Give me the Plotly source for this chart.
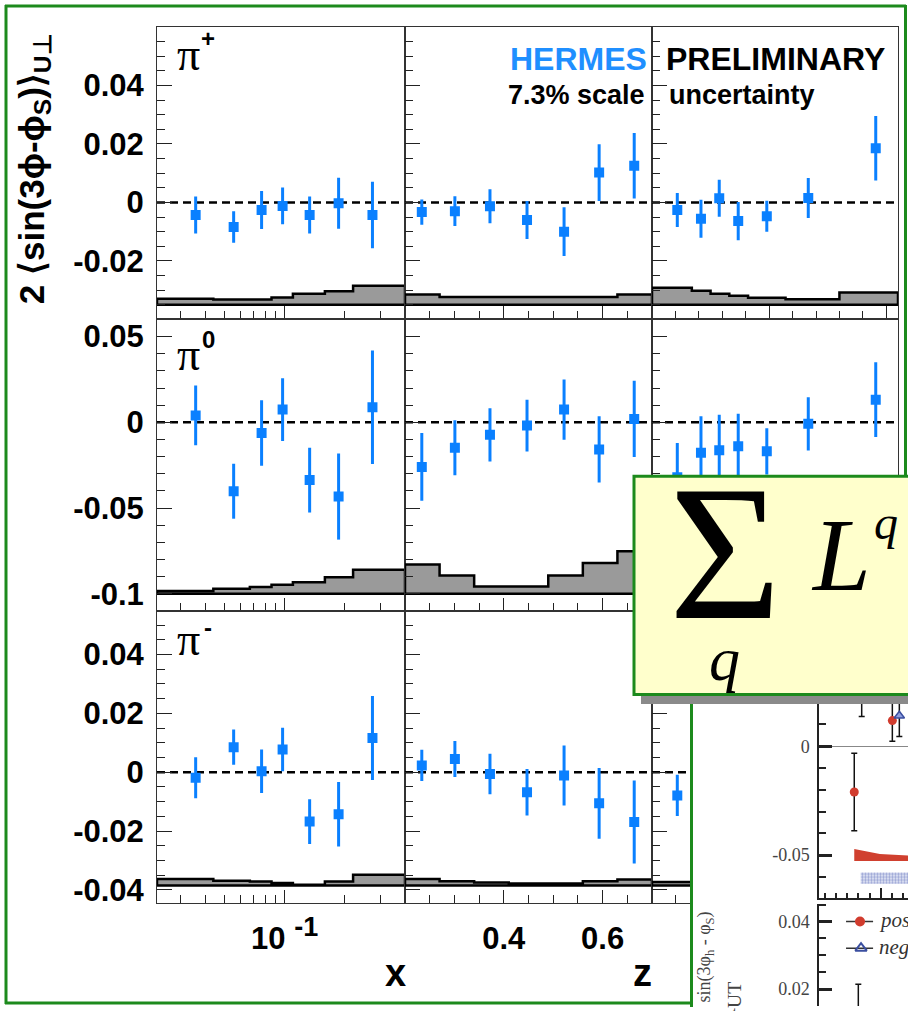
import numpy as np
import plotly.graph_objects as go

W, H = 908, 1011

# ---------------- data ----------------
x_centers = [0.0359, 0.0556, 0.0767, 0.0977, 0.1334, 0.1862, 0.275]
z_centers = [0.234, 0.301, 0.372, 0.447, 0.522, 0.593, 0.664]
pt_centers = [0.108, 0.209, 0.287, 0.368, 0.490, 0.667, 0.955]

x_edges = [0.023, 0.044, 0.067, 0.086, 0.11, 0.159, 0.22, 0.4]
z_edges = [0.2, 0.27, 0.34, 0.41, 0.49, 0.56, 0.63, 0.7]
pt_edges = [0.0, 0.17, 0.25, 0.33, 0.41, 0.57, 0.80, 1.05]

# pi+
pip_x_val = [-0.0043, -0.0084, -0.0026, -0.0012, -0.0043, -0.0003, -0.0043]
pip_x_err = [0.0063, 0.0054, 0.0065, 0.0063, 0.0063, 0.0087, 0.0114]
pip_z_val = [-0.0033, -0.0030, -0.0013, -0.0060, -0.0100, 0.0102, 0.0125]
pip_z_err = [0.0043, 0.0051, 0.0058, 0.0065, 0.0083, 0.0097, 0.0112]
pip_pt_val = [-0.0026, -0.0056, 0.0014, -0.0064, -0.0047, 0.0015, 0.0185]
pip_pt_err = [0.0058, 0.0065, 0.0063, 0.0065, 0.0053, 0.0068, 0.0110]
pip_x_sys = [0.0021, 0.0018, 0.0018, 0.0025, 0.0038, 0.0046, 0.0065]
pip_z_sys = [0.0035, 0.0027, 0.0027, 0.0027, 0.0027, 0.0027, 0.0035]
pip_pt_sys = [0.0058, 0.0048, 0.0038, 0.0031, 0.0024, 0.0019, 0.0042]

# pi0
pi0_x_val = [0.0040, -0.0402, -0.0063, 0.0074, -0.0337, -0.0433, 0.0088]
pi0_x_err = [0.0174, 0.0160, 0.0191, 0.0183, 0.0189, 0.0251, 0.0331]
pi0_z_val = [-0.0260, -0.0148, -0.0073, -0.0019, 0.0074, -0.0158, 0.0020]
pi0_z_err = [0.0197, 0.0160, 0.0155, 0.0151, 0.0176, 0.0193, 0.0222]
pi0_pt_val = [-0.0320, -0.0177, -0.0163, -0.0140, -0.0169, -0.0009, 0.0132]
pi0_pt_err = [0.0199, 0.0213, 0.0207, 0.0190, 0.0135, 0.0155, 0.0218]
pi0_x_sys = [0.0016, 0.0030, 0.0040, 0.0053, 0.0068, 0.0097, 0.0140]
pi0_z_sys = [0.0171, 0.0107, 0.0043, 0.0043, 0.0107, 0.0180, 0.0248]
pi0_pt_sys = [0.0120, 0.0090, 0.0070, 0.0060, 0.0050, 0.0060, 0.0100]

# pi-
pim_x_val = [-0.0019, 0.0085, 0.0003, 0.0077, -0.0168, -0.0143, 0.0116]
pim_x_err = [0.0070, 0.0060, 0.0074, 0.0074, 0.0076, 0.0110, 0.0143]
pim_z_val = [0.0023, 0.0045, -0.0006, -0.0068, -0.0011, -0.0106, -0.0169]
pim_z_err = [0.0053, 0.0061, 0.0069, 0.0079, 0.0102, 0.0120, 0.0141]
pim_pt_val = [-0.0079, -0.0030, 0.0020, -0.0040, 0.0010, 0.0030, 0.0060]
pim_pt_err = [0.0070, 0.0070, 0.0070, 0.0070, 0.0060, 0.0070, 0.0110]
pim_x_sys = [0.0022, 0.0016, 0.0013, 0.0008, 0.0002, 0.0013, 0.0036]
pim_z_sys = [0.0022, 0.0014, 0.0010, 0.0007, 0.0007, 0.0014, 0.0020]
pim_pt_sys = [0.0012, 0.0010, 0.0010, 0.0010, 0.0012, 0.0015, 0.0020]

sys_base = [-0.035, -0.100, -0.0385]
y_ranges = [[-0.04, 0.06], [-0.11, 0.06], [-0.0443, 0.0548]]
y_tickvals = [[-0.04, -0.02, 0, 0.02, 0.04, 0.06], [-0.1, -0.05, 0, 0.05], [-0.04, -0.02, 0, 0.02, 0.04]]
y_ticktext = [["", "-0.02", "0", "0.02", "0.04", ""], ["-0.1", "-0.05", "0", "0.05"],
              ["-0.04", "-0.02", "0", "0.02", "0.04"]]
y_minor = [0.005, 0.01, 0.005]
hadron_labels = ["+", "0", "-"]

# inset (other experiment) data
ins_pos_x = [0.263, 0.601]
ins_pos_y = [-0.021, 0.0118]
ins_pos_err = [0.0178, 0.0095]
ins_neg_x = [0.663]
ins_neg_y = [0.014]
ins_neg_err = [0.0095]
ins_oth_x = [0.329]
ins_oth_y = [0.028]
ins_oth_err = [0.0143]
ins_red_band_x = [0.263, 0.49, 0.74]
ins_red_band_top = [-0.0472, -0.0495, -0.0502]
ins_red_band_bot = [-0.0527, -0.0527, -0.0527]
ins_blue_band_x = [0.32, 0.74]
ins_blue_band_top = [-0.0580, -0.0580]
ins_blue_band_bot = [-0.0632, -0.0632]
ins_low_x = [0.299]
ins_low_y = [0.008]
ins_low_err = [0.0134]

BLUE = "#0a80ff"
GREEN = "#1c8a1c"

fig = go.Figure()

col_px = [(157, 405), (405, 652), (652, 898)]
row_px = [(27, 321), (321, 614), (614, 907)]
cols = [
    dict(centers=x_centers, edges=x_edges, rng=[0.023, 0.4]),
    dict(centers=z_centers, edges=z_edges, rng=[0.2, 0.7]),
    dict(centers=pt_centers, edges=pt_edges, rng=[0.0, 1.05]),
]
vals = [[pip_x_val, pip_z_val, pip_pt_val], [pi0_x_val, pi0_z_val, pi0_pt_val], [pim_x_val, pim_z_val, pim_pt_val]]
errs = [[pip_x_err, pip_z_err, pip_pt_err], [pi0_x_err, pi0_z_err, pi0_pt_err], [pim_x_err, pim_z_err, pim_pt_err]]
syss = [[pip_x_sys, pip_z_sys, pip_pt_sys], [pi0_x_sys, pi0_z_sys, pi0_pt_sys], [pim_x_sys, pim_z_sys, pim_pt_sys]]


def axn(k):
    return ("x" if k == 1 else f"x{k}"), ("y" if k == 1 else f"y{k}")


layout = dict(width=W, height=H, margin=dict(l=0, r=0, t=0, b=0), paper_bgcolor="white",
              plot_bgcolor="white", showlegend=False)

tickfont = dict(family="Liberation Sans", size=31, color="black", weight="bold")

for r in range(3):
    for c in range(3):
        k = r * 3 + c + 1
        xa, ya = axn(k)
        cd = cols[c]
        base = sys_base[r]
        e = cd["edges"]
        hx, hy = [e[0]], [base]
        for i, h in enumerate(syss[r][c]):
            hx += [e[i], e[i + 1]]
            hy += [base + h, base + h]
        hx += [e[-1], e[0]]
        hy += [base, base]
        fig.add_trace(go.Scatter(x=hx, y=hy, mode="lines", fill="toself", fillcolor="#9a9a9a",
                                 line=dict(color="black", width=2.5), xaxis=xa, yaxis=ya,
                                 hoverinfo="skip", showlegend=False))
        fig.add_trace(go.Scatter(x=cd["rng"], y=[0, 0], mode="lines",
                                 line=dict(color="black", width=2.5, dash="8px,5px"),
                                 xaxis=xa, yaxis=ya, hoverinfo="skip", showlegend=False))
        fig.add_trace(go.Scatter(x=cd["centers"], y=vals[r][c], mode="markers",
                                 marker=dict(symbol="square", size=10, color=BLUE),
                                 error_y=dict(type="data", array=errs[r][c], color=BLUE, thickness=3, width=0),
                                 xaxis=xa, yaxis=ya, showlegend=False))

        xkey = "xaxis" if k == 1 else f"xaxis{k}"
        ykey = "yaxis" if k == 1 else f"yaxis{k}"
        xd = dict(domain=[col_px[c][0] / W, col_px[c][1] / W], anchor=ya, showline=True, mirror=True,
                  linecolor="#333", linewidth=1, ticks="inside", ticklen=13, tickcolor="#222", tickwidth=1,
                  showgrid=False, zeroline=False, showticklabels=(r == 2 and c < 2), tickfont=tickfont,
                  ticklabelstandoff=8)
        if c == 0:
            xd.update(type="log", range=[np.log10(0.023), np.log10(0.4)], tickvals=[0.1],
                      ticktext=["10 <sup><span style='font-size:27px'>-1</span></sup>"],
                      minor=dict(ticks="inside", ticklen=8, tickcolor="#222",
                                 tickvals=[0.03, 0.04, 0.05, 0.06, 0.07, 0.08, 0.09, 0.2, 0.3]))
        elif c == 1:
            xd.update(range=[0.2, 0.7], tickvals=[0.2, 0.4, 0.6], ticktext=["", "0.4", "0.6"],
                      minor=dict(ticks="inside", ticklen=8, tickcolor="#222", dtick=0.05, tick0=0.2))
        else:
            xd.update(range=[0.0, 1.05], tickvals=[0.0, 0.5, 1.0], ticktext=["", "0.5", "1"],
                      minor=dict(ticks="inside", ticklen=8, tickcolor="#222", dtick=0.1, tick0=0))
        yd = dict(domain=[1 - row_px[r][1] / H, 1 - row_px[r][0] / H], anchor=xa, showline=True, mirror=True,
                  linecolor="#333", linewidth=1, ticks="inside", ticklen=15, tickcolor="#222", tickwidth=1,
                  showgrid=False, zeroline=False, range=y_ranges[r], tickvals=y_tickvals[r],
                  ticktext=y_ticktext[r], showticklabels=(c == 0), tickfont=tickfont, ticklabelstandoff=6,
                  minor=dict(ticks="inside", ticklen=8, tickcolor="#222", dtick=y_minor[r], tick0=0))
        layout[xkey] = xd
        layout[ykey] = yd

# ---- cover for inset region ----
fig.add_trace(go.Scatter(x=[None], y=[None], xaxis="x10", yaxis="y10", showlegend=False, hoverinfo="skip"))
layout["xaxis10"] = dict(domain=[692 / W, 1], anchor="y10", visible=False, range=[0, 1])
layout["yaxis10"] = dict(domain=[0, 1 - 699 / H], anchor="x10", visible=False, range=[0, 1])

# ---- inset upper panel ----
ins_font = dict(family="Liberation Serif", size=18, color="#444")
fig.add_trace(go.Scatter(x=ins_red_band_x + ins_red_band_x[::-1], y=ins_red_band_top + ins_red_band_bot[::-1],
                         mode="lines", fill="toself", fillcolor="#d0402f", line=dict(width=0),
                         xaxis="x11", yaxis="y11", hoverinfo="skip", showlegend=False))
fig.add_trace(go.Scatter(x=ins_blue_band_x + ins_blue_band_x[::-1], y=ins_blue_band_top + ins_blue_band_bot[::-1],
                         mode="lines", fill="toself", fillcolor="rgba(0,0,0,0)",
                         fillpattern=dict(shape=".", fgcolor="#4a5bb0", bgcolor="#e8ebf8", size=3, solidity=0.5),
                         line=dict(width=0), xaxis="x11", yaxis="y11", hoverinfo="skip", showlegend=False))
fig.add_trace(go.Scatter(x=ins_oth_x, y=ins_oth_y, mode="markers", marker=dict(size=6, color="black"),
                         error_y=dict(type="data", array=ins_oth_err, color="#111", thickness=1.5, width=3),
                         xaxis="x11", yaxis="y11", showlegend=False))
fig.add_trace(go.Scatter(x=ins_pos_x, y=ins_pos_y, mode="markers",
                         marker=dict(symbol="circle", size=9, color="#d13c2e"),
                         error_y=dict(type="data", array=ins_pos_err, color="#111", thickness=1.5, width=3),
                         xaxis="x11", yaxis="y11", showlegend=False))
fig.add_trace(go.Scatter(x=ins_neg_x, y=ins_neg_y, mode="markers",
                         marker=dict(symbol="triangle-up", size=9, color="#8f9ede",
                                     line=dict(color="#3b4fa0", width=1.5)),
                         error_y=dict(type="data", array=ins_neg_err, color="#111", thickness=1.5, width=3),
                         xaxis="x11", yaxis="y11", showlegend=False))
layout["xaxis11"] = dict(domain=[819 / W, 1], anchor="y11", range=[-0.05, 0.74], showline=True, linecolor="#222",
                         linewidth=1.5, mirror=False, ticks="inside", tickvals=[0.5], ticklen=10, tickwidth=1.5,
                         tickcolor="#222", showticklabels=False, showgrid=False, zeroline=False,
                         minor=dict(ticks="inside", ticklen=5, dtick=0.1, tick0=0, tickcolor="#222"))
layout["yaxis11"] = dict(domain=[1 - 902 / H, 1 - 699 / H], anchor="x11", range=[-0.0695, 0.0233], showline=True,
                         linecolor="#222", linewidth=1.5, ticks="inside", tickvals=[-0.05, 0],
                         ticktext=["-0.05", "0"], ticklen=13, tickwidth=2.5, tickcolor="#222",
                         tickfont=ins_font, showgrid=False, zeroline=True, zerolinecolor="#888",
                         zerolinewidth=1, ticklabelstandoff=4,
                         minor=dict(ticks="inside", ticklen=7, dtick=0.01, tick0=0, tickcolor="#222", tickwidth=2))

# ---- inset lower panel ----
fig.add_trace(go.Scatter(x=ins_low_x, y=ins_low_y, mode="markers", marker=dict(size=6, color="black"),
                         error_y=dict(type="data", array=ins_low_err, color="#111", thickness=1.5, width=3),
                         xaxis="x12", yaxis="y12", showlegend=False))
leg_x = [0.19, 0.43]
fig.add_trace(go.Scatter(x=leg_x, y=[0.040, 0.040], mode="lines", line=dict(color="#333", width=1.5),
                         xaxis="x12", yaxis="y12", hoverinfo="skip", showlegend=False))
fig.add_trace(go.Scatter(x=[0.314], y=[0.040], mode="markers", marker=dict(symbol="circle", size=10, color="#d13c2e"),
                         xaxis="x12", yaxis="y12", hoverinfo="skip", showlegend=False))
fig.add_trace(go.Scatter(x=leg_x, y=[0.0321, 0.0321], mode="lines", line=dict(color="#333", width=1.5),
                         xaxis="x12", yaxis="y12", hoverinfo="skip", showlegend=False))
fig.add_trace(go.Scatter(x=[0.323], y=[0.0321], mode="markers",
                         marker=dict(symbol="triangle-up-open", size=10, color="#3b4fa0", line=dict(width=2)),
                         xaxis="x12", yaxis="y12", hoverinfo="skip", showlegend=False))
layout["xaxis12"] = dict(domain=[819 / W, 1], anchor="y12", range=[-0.05, 0.74], showline=False, ticks="",
                         showticklabels=False, showgrid=False, zeroline=False)
layout["yaxis12"] = dict(domain=[0, 1 - 908 / H], anchor="x12", range=[0.015, 0.0453], showline=True,
                         linecolor="#222", linewidth=1.5, ticks="inside", tickvals=[0.02, 0.04],
                         ticktext=["0.02", "0.04"], ticklen=13, tickwidth=2.5, tickcolor="#222",
                         tickfont=ins_font, showgrid=False, zeroline=False, ticklabelstandoff=4,
                         minor=dict(ticks="inside", ticklen=7, dtick=0.005, tick0=0, tickcolor="#222", tickwidth=2))


def px(xp):
    return xp / W


def py(yp):
    return 1 - yp / H


shapes = []
# main green frame
shapes.append(dict(type="line", xref="paper", yref="paper", x0=px(5), x1=px(906), y0=py(6), y1=py(6),
                   line=dict(color=GREEN, width=3), layer="above"))
shapes.append(dict(type="line", xref="paper", yref="paper", x0=px(6), x1=px(6), y0=py(5), y1=py(1009),
                   line=dict(color=GREEN, width=3), layer="above"))
shapes.append(dict(type="line", xref="paper", yref="paper", x0=px(5), x1=px(692), y0=py(1008), y1=py(1008),
                   line=dict(color=GREEN, width=3), layer="above"))
shapes.append(dict(type="line", xref="paper", yref="paper", x0=px(905.5), x1=px(905.5), y0=py(5), y1=py(482),
                   line=dict(color=GREEN, width=3), layer="above"))
# inset border
shapes.append(dict(type="line", xref="paper", yref="paper", x0=px(691.5), x1=px(691.5), y0=py(705), y1=py(1012),
                   line=dict(color=GREEN, width=3), layer="above"))
# shadow + yellow box
shapes.append(dict(type="rect", xref="paper", yref="paper", x0=px(641), x1=px(912), y0=py(698), y1=py(707.5),
                   fillcolor="#8a8a8a", line=dict(width=0), layer="above"))
shapes.append(dict(type="rect", xref="paper", yref="paper", x0=px(634), x1=px(914), y0=py(478.5), y1=py(698),
                   fillcolor="#ffffcc", line=dict(color=GREEN, width=3), layer="above"))
layout["shapes"] = shapes


def ann(text, x, y, size, family="Liberation Sans", color="black", xanchor="center", yanchor="middle",
        angle=0, bold=False):
    return dict(text=text, x=px(x), y=py(y), xref="paper", yref="paper", showarrow=False,
                xanchor=xanchor, yanchor=yanchor, textangle=angle,
                font=dict(family=family, size=size, color=color, weight="bold" if bold else "normal"))


anns = []
anns.append(ann("2 ⟨sin(3ϕ-ϕ<sub>S</sub>)⟩<sub>U⊥</sub>", 34, 170, 35, angle=-90, bold=True))
pi_y = [54.5, 356, 643]
sup_y = [39, 341.5, 631]
for r in range(3):
    anns.append(ann("π", 188.5, pi_y[r], 46, family="Liberation Serif"))
    anns.append(ann(hadron_labels[r], 208, sup_y[r], 24, bold=True))
anns.append(ann("HERMES", 508, 59, 32, color="#1f8fff", xanchor="left", bold=True))
anns.append(ann("PRELIMINARY", 664, 59, 32, xanchor="left", bold=True))
anns.append(ann("7.3% scale", 506, 95, 27, xanchor="left", bold=True))
anns.append(ann("uncertainty", 667, 95, 27, xanchor="left", bold=True))
anns.append(ann("x", 395, 978, 38, bold=True))
anns.append(ann("z", 642, 978, 38, bold=True))
# formula
anns.append(ann("Σ", 724.5, 556, 193, family="Liberation Serif"))
anns.append(ann("<i>L</i>", 841, 557, 104, family="Liberation Serif"))
anns.append(ann("<i>q</i>", 886, 525.5, 48, family="Liberation Serif"))
anns.append(ann("<i>q</i>", 724, 662.5, 62, family="Liberation Serif"))
# inset texts
anns.append(ann("sin(3φ<sub>h</sub> - φ<sub>S</sub>)", 706, 1010, 18, family="Liberation Serif", color="#444",
                yanchor="bottom", angle=-90))
anns.append(ann("A<sub>UT</sub>", 727, 985, 28, family="Liberation Serif", color="#444", yanchor="top", angle=-90))
anns.append(ann("<i>positive</i>", 877, 925, 21, family="Liberation Serif", color="#333", xanchor="left"))
anns.append(ann("<i>negative</i>", 877, 952, 21, family="Liberation Serif", color="#333", xanchor="left"))
layout["annotations"] = anns

fig.update_layout(**layout)
fig.write_html("out.html")
